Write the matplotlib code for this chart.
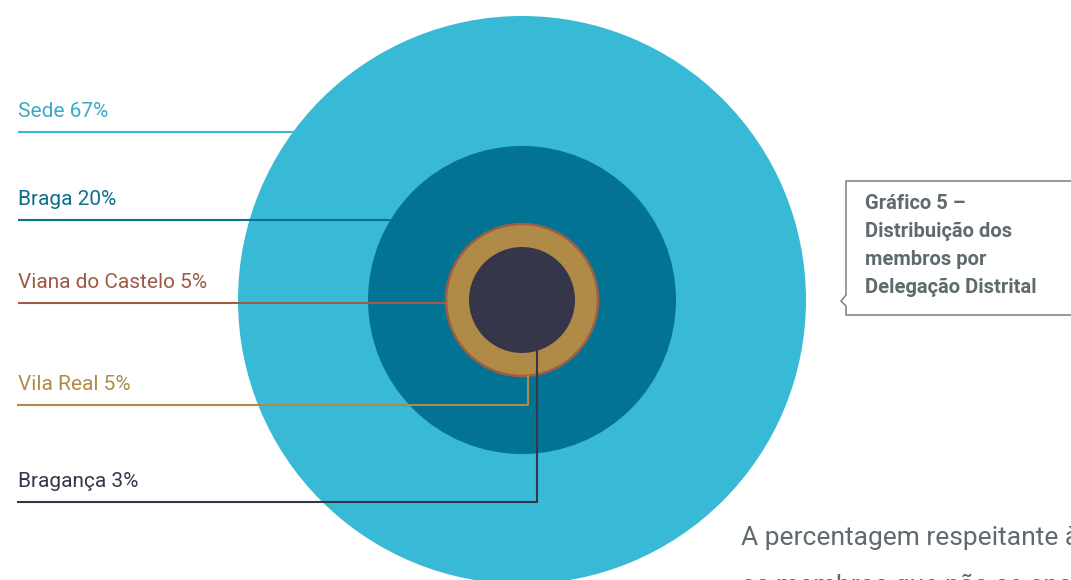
import matplotlib.pyplot as plt
from matplotlib.patches import Circle

# data
labels = ["Sede", "Braga", "Viana do Castelo", "Vila Real", "Bragança"]
values = [67, 20, 5, 5, 3]
colors = ["#38b9d6", "#037393", "#a05c44", "#b08b48", "#36364b"]
text_colors = ["#3aaac8", "#0a6f8e", "#9c5a45", "#b08b48", "#36364b"]

# layout (pixel space)
cx, cy = 522, 300
radii = [284, 154, 77, 75, 53]
label_y = [132, 220, 303, 405, 502]

plt.rcParams["font.family"] = ["Roboto", "DejaVu Sans"]

fig = plt.figure(figsize=(10.71, 5.80), dpi=100)
ax = fig.add_axes([0, 0, 1, 1])
ax.set_xlim(0, 1071)
ax.set_ylim(580, 0)
ax.set_aspect("equal")
ax.axis("off")

# circles
ax.add_patch(Circle((cx, cy), radii[0], color=colors[0], lw=0, zorder=1))
ax.add_patch(Circle((cx, cy), radii[1], color=colors[1], lw=0, zorder=2))
ax.add_patch(Circle((cx, cy), radii[2] - 1, facecolor=colors[3], edgecolor=colors[2], lw=1.8, zorder=3))
ax.add_patch(Circle((cx, cy), radii[4], color=colors[4], lw=0, zorder=4))

# leader lines and labels
x0 = 18
ends = [295, 390, cx - radii[2]]
for i in range(3):
    ax.plot([x0, ends[i]], [label_y[i], label_y[i]], color=colors[i], lw=1.5,
            solid_capstyle="butt", zorder=5)
# Vila Real -> bottom of gold ring
ax.plot([x0, 528, 528], [label_y[3], label_y[3], cy + 76], color=colors[3], lw=1.5, zorder=5)
# Bragança -> bottom of inner circle
ax.plot([x0, 537, 537], [label_y[4], label_y[4], cy + 51], color=colors[4], lw=1.5, zorder=5)

for lab, v, y, c in zip(labels, values, label_y, text_colors):
    ax.text(x0, y - 11, f"{lab} {v}%", color=c, fontsize=15,
            va="bottom", ha="left")

# caption box with pointer
bx = [1080, 846, 846, 841, 846, 846, 1080]
by = [181, 181, 295, 301, 306, 315, 315]
ax.plot(bx, by, color="#7f8a8e", lw=1.2, zorder=5)
ax.text(865, 194, "Gráfico 5 –\nDistribuição dos\nmembros por\nDelegação Distrital",
        color="#5f6a6f", fontsize=14.5, fontweight="bold", va="top", ha="left",
        linespacing=1.6)

# body text (cut off by figure edge, as in the source page)
ax.text(741, 538, "A percentagem respeitante à Sede", color="#5f6a6f", fontsize=19,
        va="center", ha="left")
ax.text(741, 586, "os membros que não se encontram", color="#5f6a6f", fontsize=19,
        va="center", ha="left")

fig.savefig("out.png", dpi=100)
